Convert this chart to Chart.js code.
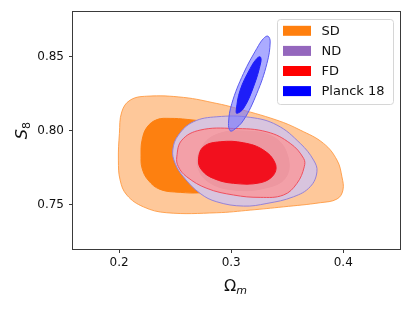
<!DOCTYPE html>
<html>
<head>
<meta charset="utf-8">
<script src="https://cdn.jsdelivr.net/npm/chart.js@4/dist/chart.umd.min.js"></script>
<style>
  html, body { margin: 0; padding: 0; background: #fff; }
  #wrap { width: 413px; height: 310px; }
</style>
</head>
<body>
<div id="wrap"><canvas id="grafico"></canvas></div>
<script>
// contour outlines, [Omega_m, S8]
var sdOuter = [[0.2024,0.8128],[0.2098,0.8207],[0.2247,0.8234],[0.2574,0.8226],[0.2872,0.8185],[0.3020,0.8158],
  [0.3408,0.8072],[0.3616,0.8005],[0.3824,0.7915],[0.3944,0.7802],[0.3988,0.7689],[0.3997,0.7599],[0.3944,0.7539],
  [0.3795,0.7514],[0.3467,0.7486],[0.3170,0.7464],[0.2872,0.7446],[0.2426,0.7446],[0.2217,0.7486],[0.2069,0.7566],
  [0.2009,0.7668],[0.1994,0.7802],[0.2003,0.7982]];
var sdInner = [[0.2196,0.7836],[0.2205,0.7937],[0.2250,0.8025],[0.2339,0.8076],[0.2455,0.8084],[0.2607,0.8077],
  [0.2768,0.8059],[0.2991,0.8005],[0.3080,0.7850],[0.2946,0.7600],[0.2723,0.7581],[0.2545,0.7584],[0.2366,0.7604],
  [0.2259,0.7667],[0.2205,0.7748]];
var ndOuter = [[0.2479,0.7870],[0.2529,0.7971],[0.2663,0.8061],[0.2872,0.8095],[0.3170,0.8091],[0.3408,0.8039],
  [0.3616,0.7915],[0.3735,0.7802],[0.3765,0.7723],[0.3705,0.7622],[0.3556,0.7554],[0.3319,0.7509],[0.3110,0.7491],
  [0.2872,0.7520],[0.2723,0.7577],[0.2574,0.7689],[0.2500,0.7780]];
var ndInner = [[0.2723,0.7870],[0.2857,0.7971],[0.3125,0.7998],[0.3393,0.7951],[0.3509,0.7816],[0.3482,0.7680],
  [0.3304,0.7613],[0.3036,0.7599],[0.2813,0.7647],[0.2705,0.7748]];
var fdOuter = [[0.2515,0.7824],[0.2560,0.7937],[0.2723,0.8005],[0.3021,0.8016],[0.3319,0.7993],[0.3527,0.7915],
  [0.3646,0.7814],[0.3652,0.7757],[0.3587,0.7645],[0.3467,0.7566],[0.3259,0.7550],[0.3021,0.7566],[0.2783,0.7611],
  [0.2604,0.7689],[0.2529,0.7757]];
var fdInner = [[0.2708,0.7802],[0.2753,0.7892],[0.2902,0.7926],[0.3110,0.7919],[0.3288,0.7870],[0.3393,0.7780],
  [0.3378,0.7701],[0.3259,0.7649],[0.3021,0.7645],[0.2842,0.7678],[0.2738,0.7734]];
var planckOuter = [[0.3328,0.8640],[0.3348,0.8601],[0.3319,0.8455],[0.3229,0.8253],[0.3110,0.8072],[0.3021,0.8005],
  [0.2991,0.8000],[0.2976,0.8050],[0.3006,0.8185],[0.3110,0.8388],[0.3229,0.8557],[0.3288,0.8624]];
var planckInner = [[0.3259,0.8500],[0.3265,0.8466],[0.3199,0.8297],[0.3110,0.8151],[0.3051,0.8118],[0.3045,0.8140],
  [0.3080,0.8275],[0.3170,0.8422],[0.3229,0.8489]];

var legendNames = ['SD', 'ND', 'FD', 'Planck 18'];
var legendColors = ['#ff7f0e', '#9467bd', '#ff0000', '#0000ff'];
var xTicks = [0.2, 0.3, 0.4];
var yTicks = [0.75, 0.80, 0.85];

var FONT = '"DejaVu Sans", sans-serif';

function contorno(pontos, fundo, borda, ordem) {
    return {
        data: pontos.map(function (p) { return { x: p[0], y: p[1] }; }),
        backgroundColor: fundo,
        borderColor: borda,
        borderWidth: 1,
        fill: 'shape',
        tension: 0.4,
        pointRadius: 0,
        order: ordem
    };
}

// make every line a closed smooth loop
var fechaCurvas = {
    id: 'fechaCurvas',
    afterDatasetsUpdate: function (chart) {
        chart.getSortedVisibleDatasetMetas().forEach(function (meta) {
            var line = meta.dataset;
            if (!line) return;
            line._loop = true;
            line._fullLoop = true;
            delete line._segments;
            delete line._path;
            line._pointsUpdated = false;
        });
    }
};

var moldura = {
    id: 'moldura',
    afterDatasetsDraw: function (chart) {
        var ctx = chart.ctx, a = chart.chartArea;
        ctx.save();
        // spines
        ctx.strokeStyle = '#3a3a3a';
        ctx.lineWidth = 1;
        ctx.strokeRect(Math.round(a.left) - 0.5, Math.round(a.top) - 0.5,
            Math.round(a.right - a.left) + 1, Math.round(a.bottom - a.top) + 1);
        // legend
        ctx.beginPath();
        ctx.roundRect(277.5, 19.5, 116, 85, 3);
        ctx.fillStyle = 'rgba(255,255,255,0.8)';
        ctx.fill();
        ctx.strokeStyle = '#d6d6d6';
        ctx.stroke();
        ctx.font = '13px ' + FONT;
        ctx.textBaseline = 'middle';
        for (var i = 0; i < legendNames.length; i++) {
            var cy = 30.8 + i * 20.1;
            ctx.fillStyle = legendColors[i];
            ctx.fillRect(283, cy - 5, 28, 10);
            ctx.fillStyle = '#111';
            ctx.fillText(legendNames[i], 321.5, cy + 0.5);
        }
        ctx.restore();
    },
    afterDraw: function (chart) {
        var ctx = chart.ctx, a = chart.chartArea;
        ctx.save();
        ctx.fillStyle = '#111';
        ctx.textBaseline = 'alphabetic';
        // x title: Omega_m
        ctx.font = '16px ' + FONT;
        var w1 = ctx.measureText('Ω').width;
        ctx.font = 'italic 11px ' + FONT;
        var w2 = ctx.measureText('m').width;
        var x0 = (a.left + a.right) / 2 - 1 - (w1 + w2) / 2;
        ctx.font = '16px ' + FONT;
        ctx.fillText('Ω', x0, 290.5);
        ctx.font = 'italic 11px ' + FONT;
        ctx.fillText('m', x0 + w1, 293.5);
        // y title: S_8
        ctx.translate(27, (a.top + a.bottom) / 2);
        ctx.rotate(-Math.PI / 2);
        ctx.font = 'italic 16px ' + FONT;
        var s1 = ctx.measureText('S').width;
        ctx.font = '11px ' + FONT;
        var s2 = ctx.measureText('8').width;
        var y0 = -(s1 + s2) / 2;
        ctx.font = 'italic 16px ' + FONT;
        ctx.fillText('S', y0, 0);
        ctx.font = '11px ' + FONT;
        ctx.fillText('8', y0 + s1, 3);
        ctx.restore();
    }
};

var ctx = document.getElementById('grafico').getContext('2d');
var chart = new Chart(ctx, {
    type: 'line',
    data: {
        datasets: [
            contorno(sdOuter, 'rgb(254,200,154)', 'rgba(255,150,60,0.85)', 8),
            contorno(sdInner, 'rgb(253,128,16)', 'rgb(253,128,16)', 7),
            contorno(ndOuter, 'rgb(216,196,222)', 'rgb(150,130,215)', 6),
            contorno(ndInner, 'rgb(193,163,195)', 'rgb(193,163,195)', 5),
            contorno(fdOuter, 'rgba(255,145,145,0.7)', 'rgb(240,80,95)', 4),
            contorno(fdInner, 'rgb(242,16,30)', 'rgb(242,16,30)', 3),
            contorno(planckOuter, 'rgba(115,115,255,0.6)', 'rgb(90,90,240)', 2),
            contorno(planckInner, 'rgb(30,30,248)', 'rgb(30,30,248)', 1)
        ]
    },
    options: {
        responsive: true,
        maintainAspectRatio: false,
        animation: false,
        events: [],
        layout: { padding: { top: 12, right: 13, bottom: 0, left: 0 } },
        plugins: {
            legend: { display: false },
            tooltip: { enabled: false },
            filler: { drawTime: 'beforeDatasetDraw' }
        },
        scales: {
            x: {
                type: 'linear',
                min: 0.1589,
                max: 0.4506,
                afterBuildTicks: function (s) { s.ticks = xTicks.map(function (v) { return { value: v }; }); },
                afterFit: function (s) { s.height = 61; },
                ticks: {
                    color: '#111', padding: 3, font: { family: FONT, size: 12 },
                    callback: function (v) { return v.toFixed(1); }
                },
                grid: { drawOnChartArea: false, drawTicks: true, tickLength: 4, color: '#3a3a3a' },
                border: { display: false }
            },
            y: {
                type: 'linear',
                min: 0.7201,
                max: 0.8802,
                afterBuildTicks: function (s) { s.ticks = yTicks.map(function (v) { return { value: v }; }); },
                afterFit: function (s) { s.width = 73; },
                ticks: {
                    color: '#111', padding: 5, font: { family: FONT, size: 12 },
                    callback: function (v) { return v.toFixed(2); }
                },
                grid: { drawOnChartArea: false, drawTicks: true, tickLength: 4, color: '#3a3a3a' },
                border: { display: false }
            }
        }
    },
    plugins: [fechaCurvas, moldura]
});
</script>
</body>
</html>
